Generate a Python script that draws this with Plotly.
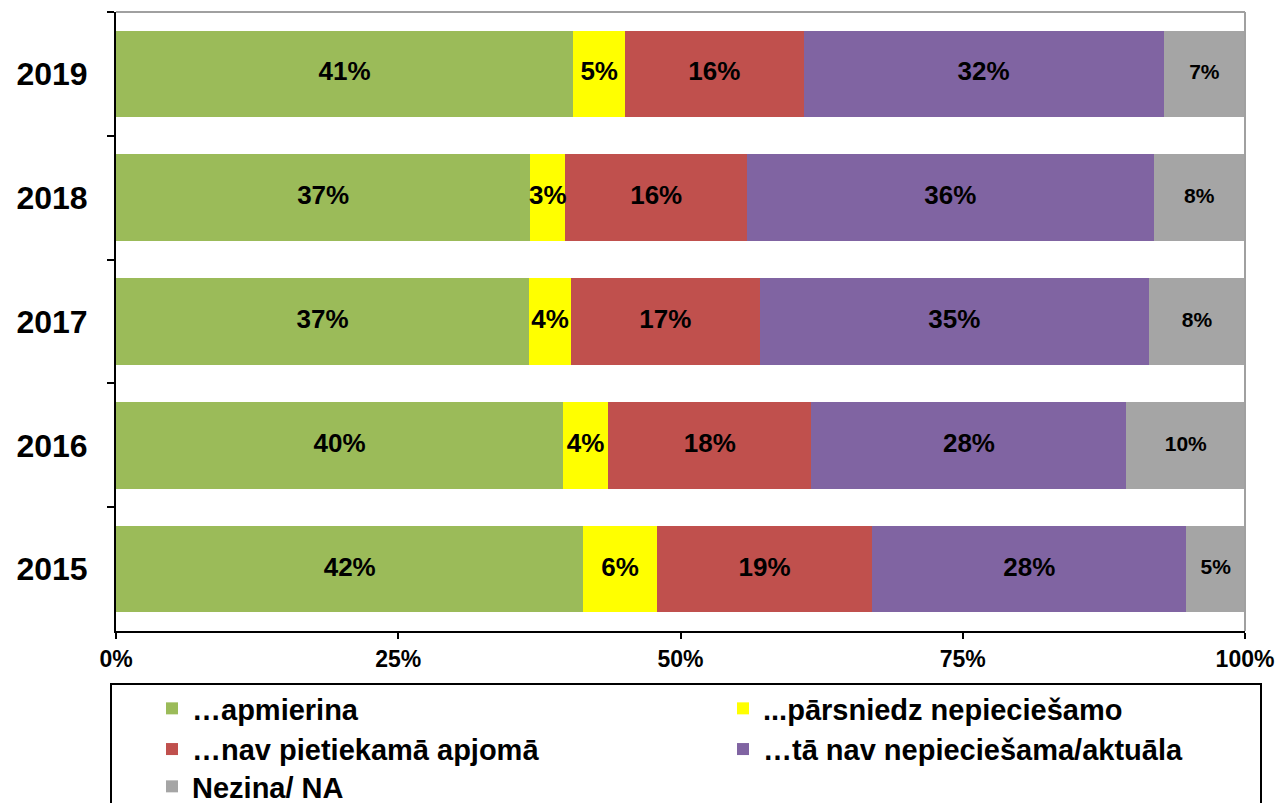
import plotly.graph_objects as go

years = ["2019", "2018", "2017", "2016", "2015"]
series_names = ["…apmierina", "...pārsniedz nepieciešamo", "…nav pietiekamā apjomā",
                "…tā nav nepieciešama/aktuāla", "Nezina/ NA"]
colors = ["#9BBB59", "#FFFF00", "#C0504D", "#8064A2", "#A5A5A5"]
legend_slot = ["legend", "legend2", "legend", "legend2", "legend3"]

# segment widths (percent), per series, in year order
apmierina = [40.5, 36.7, 36.6, 39.6, 41.4]
parsniedz = [4.6, 3.1, 3.7, 4.0, 6.5]
nav_pietiek = [15.8, 16.1, 16.7, 18.0, 19.1]
nav_vajag = [31.9, 36.0, 34.5, 27.9, 27.8]
nezina = [7.2, 8.1, 8.5, 10.5, 5.2]

# printed data labels
lab_apmierina = [41, 37, 37, 40, 42]
lab_parsniedz = [5, 3, 4, 4, 6]
lab_nav_pietiek = [16, 16, 17, 18, 19]
lab_nav_vajag = [32, 36, 35, 28, 28]
lab_nezina = [7, 8, 8, 10, 5]

x_ticks = [0, 25, 50, 75, 100]
x_tick_text = ["0%", "25%", "50%", "75%", "100%"]

values = [apmierina, parsniedz, nav_pietiek, nav_vajag, nezina]
labels = [lab_apmierina, lab_parsniedz, lab_nav_pietiek, lab_nav_vajag, lab_nezina]
label_sizes = [26, 26, 26, 26, 21]

FONT = "Liberation Sans, Arial, sans-serif"
W, H = 1278, 803
PLOT_H = H - 12 - 172
PLOT_W = W - 116 - 33

fig = go.Figure()
for name, vals, col, lg in zip(series_names, values, colors, legend_slot):
    fig.add_trace(go.Bar(
        y=years, x=vals, name=name, orientation="h",
        marker=dict(color=col, line=dict(width=0)),
        hoverinfo="skip", legend=lg,
    ))

# data labels at segment centres
cum = [0.0] * len(years)
for vals, labs, size in zip(values, labels, label_sizes):
    mids = [c + v / 2 for c, v in zip(cum, vals)]
    cum = [c + v for c, v in zip(cum, vals)]
    fig.add_trace(go.Scatter(
        y=years, x=mids, mode="text", text=[f"{l}%" for l in labs],
        textfont=dict(family=FONT, size=size, color="black", weight="bold"),
        textposition="middle center", showlegend=False, hoverinfo="skip",
    ))


def py(pix):
    return (631 - pix) / PLOT_H


def px(pix):
    return (pix - 116) / PLOT_W


def cy(pix):
    return 1 - pix / H


legend_font = dict(family=FONT, size=29, color="black", weight="bold")
common_leg = dict(orientation="v", xanchor="left", yanchor="top",
                  xref="paper", yref="container", font=legend_font,
                  traceorder="normal", bgcolor="rgba(0,0,0,0)",
                  borderwidth=0, tracegroupgap=0)
fig.update_layout(
    barmode="stack",
    bargap=0.3,
    width=W, height=H,
    margin=dict(l=116, r=33, t=12, b=172),
    plot_bgcolor="white", paper_bgcolor="white",
    font=dict(family=FONT, color="black"),
    showlegend=True,
    legend=dict(x=px(152), y=cy(683), **common_leg),
    legend2=dict(x=px(723), y=cy(683), **common_leg),
    legend3=dict(x=px(152), y=cy(761), **common_leg),
    xaxis=dict(
        range=[0, 100], tickvals=x_ticks, ticktext=x_tick_text,
        showgrid=False, zeroline=False, automargin=False,
        showline=True, linecolor="black", linewidth=2,
        ticks="outside", ticklen=6, tickwidth=2, tickcolor="black",
        tickfont=dict(family=FONT, size=23, color="black", weight="bold"),
    ),
    yaxis=dict(
        autorange="reversed", type="category", automargin=False,
        showgrid=False, zeroline=False,
        showline=True, linecolor="black", linewidth=2,
        ticks="outside", ticklen=7, tickwidth=2, tickcolor="black",
        tickson="boundaries",
        ticklabelstandoff=20,
        tickfont=dict(family=FONT, size=32, color="black", weight="bold"),
    ),
    shapes=[
        dict(type="line", xref="paper", yref="paper", x0=0, x1=1, y0=1, y1=1,
             line=dict(color="#A0A0A0", width=2)),
        dict(type="line", xref="paper", yref="paper", x0=1, x1=1, y0=0, y1=1,
             line=dict(color="#A0A0A0", width=2)),
        dict(type="rect", xref="paper", yref="paper",
             x0=px(111), x1=px(1261), y0=py(815), y1=py(684),
             line=dict(color="black", width=2), fillcolor="rgba(0,0,0,0)"),
    ],
)

fig.write_html("out.html",
               config={"displayModeBar": False},
               post_script="document.body.style.margin='0';document.body.style.padding='0';")
